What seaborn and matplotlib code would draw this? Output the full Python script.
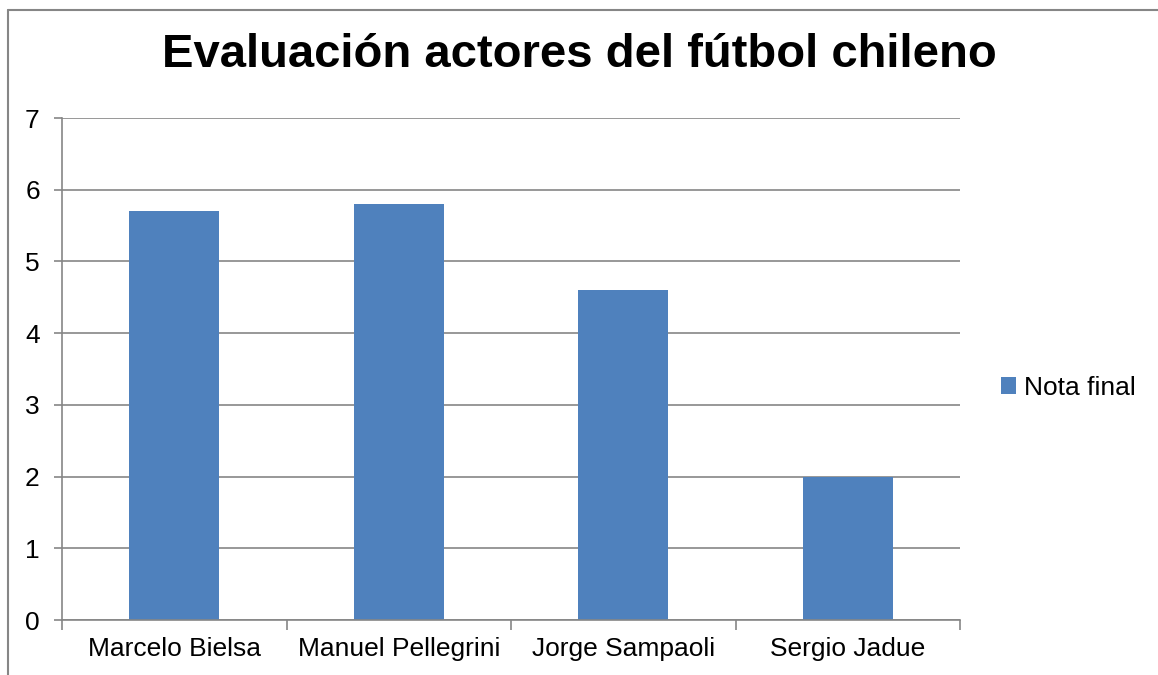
import matplotlib
matplotlib.use('Agg')
import matplotlib.pyplot as plt
from matplotlib.lines import Line2D
import seaborn as sns
import pandas as pd

# Data
nombres = ['Marcelo Bielsa', 'Manuel Pellegrini', 'Jorge Sampaoli', 'Sergio Jadue']
nota_final = [5.7, 5.8, 4.6, 2.0]
serie = 'Nota final'
y_ticks = [0, 1, 2, 3, 4, 5, 6, 7]

df = pd.DataFrame({'Nombre': nombres, 'Nota': nota_final})

sns.set_style('white')
plt.rcParams['font.family'] = ['Liberation Sans', 'DejaVu Sans']
plt.rcParams['text.color'] = 'black'

gris = '#868686'
azul = '#4F81BD'

fig = plt.figure(figsize=(11.58, 6.75), dpi=100)
ax = fig.add_axes([62 / 1158, 55 / 675, (960 - 62) / 1158, (620 - 118) / 675])

sns.barplot(data=df, x='Nombre', y='Nota', color=azul, saturation=1, width=0.4,
            ax=ax, label=serie, edgecolor=azul, linewidth=0)
if ax.get_legend() is not None:
    ax.get_legend().remove()

ax.set_ylim(0, 7)
ax.set_xlim(-0.5, len(nombres) - 0.5)
ax.set_yticks(y_ticks)
ax.set_xlabel('')
ax.set_ylabel('')

# gridlines
ax.yaxis.grid(True, color=gris, linewidth=1.2)
ax.set_axisbelow(True)

for s in ['top', 'right']:
    ax.spines[s].set_visible(False)
for s in ['left', 'bottom']:
    ax.spines[s].set_color(gris)
    ax.spines[s].set_linewidth(1.2)

ax.tick_params(axis='y', length=6, width=1.2, color=gris, pad=10, labelsize=19, labelcolor='black', left=True)
ax.tick_params(axis='x', which='major', length=0, pad=12, labelsize=19, labelcolor='black')
ax.set_xticks([i - 0.5 for i in range(len(nombres) + 1)], minor=True)
ax.tick_params(axis='x', which='minor', length=7, width=1.2, color=gris, bottom=True)

fig.text(0.5, 1 - 55 / 675, 'Evaluación actores del fútbol chileno', ha='center', va='center',
         fontsize=34, fontweight='bold', color='black')

handles, labels = ax.get_legend_handles_labels()
fig.legend(handles, labels, loc='center left', bbox_to_anchor=(990 / 1158, 1 - 388 / 675),
           frameon=False, fontsize=19, handlelength=0.6, handleheight=0.6, handletextpad=0.3,
           borderaxespad=0)

# chart area border (top and left visible)
fig.add_artist(Line2D([8 / 1158, 1], [1 - 10 / 675, 1 - 10 / 675], color=gris, linewidth=1.5,
                      transform=fig.transFigure))
fig.add_artist(Line2D([8 / 1158, 8 / 1158], [0, 1 - 10 / 675], color=gris, linewidth=1.5,
                      transform=fig.transFigure))

fig.savefig('out.png', dpi=100, facecolor='white')
